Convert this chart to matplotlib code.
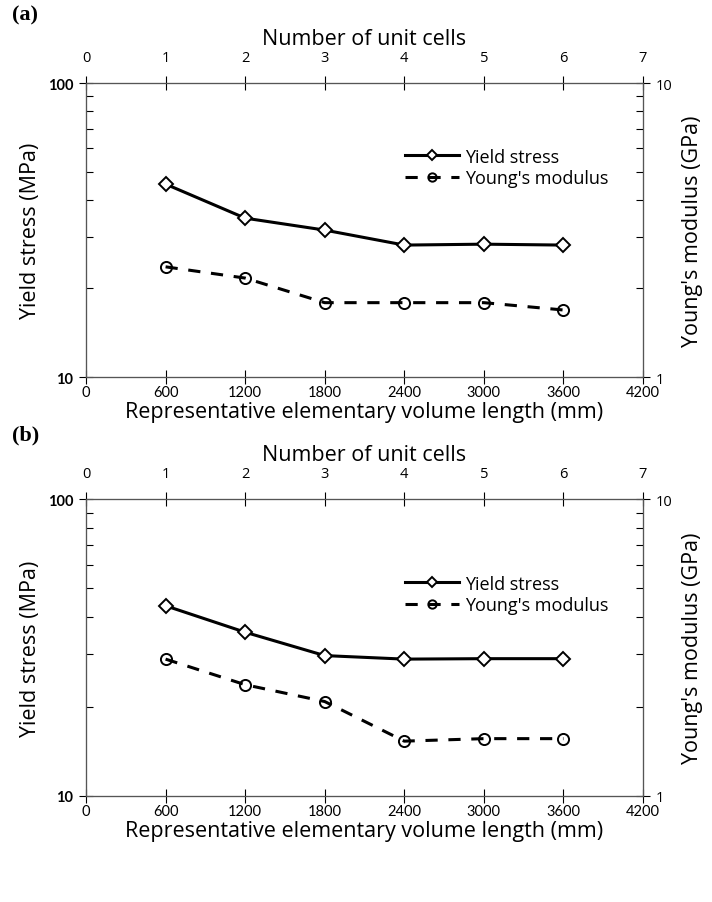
import numpy as np
import matplotlib.pyplot as plt
from matplotlib.ticker import LogLocator, NullFormatter, FixedLocator

# REV length (mm) and number of unit cells
rev_length = [600, 1200, 1800, 2400, 3000, 3600]
n_cells_ticks = [0, 1, 2, 3, 4, 5, 6, 7]
rev_ticks = [0, 600, 1200, 1800, 2400, 3000, 3600, 4200]

# panel (a)
yield_a = [45.3, 34.7, 31.6, 28.1, 28.3, 28.1]
young_a = [2.37, 2.17, 1.79, 1.79, 1.79, 1.69]
# panel (b)
yield_b = [43.7, 35.6, 29.7, 28.9, 29.0, 29.0]
young_b = [2.89, 2.37, 2.08, 1.53, 1.56, 1.56]

panel_labels = ['(a)', '(b)']

plt.rcParams['font.family'] = ['Open Sans', 'DejaVu Sans']
W, H = 712, 903
fig = plt.figure(figsize=(W / 100, H / 100), dpi=100)
TICK_FS = 10.5
LAB_FS = 15.5


def draw_panel(rect, ys, ym, tag, tag_y, leg_y):
    ax = fig.add_axes(rect)
    ax.set_xlim(0, 4200)
    ax.set_yscale('log')
    ax.set_ylim(10, 100)
    ax.set_xticks(rev_ticks)
    ax.set_xticklabels([str(t) for t in rev_ticks], fontsize=TICK_FS, family='Lato')
    ax.yaxis.set_major_locator(FixedLocator([10, 100]))
    ax.set_yticklabels(['10', '100'], fontsize=TICK_FS, family='Lato', fontweight='bold')
    ax.yaxis.set_minor_locator(LogLocator(base=10, subs=np.arange(2, 10)))
    ax.yaxis.set_minor_formatter(NullFormatter())
    ax.tick_params(axis='x', which='major', direction='inout', length=10, width=0.8, pad=1)
    ax.tick_params(axis='y', which='major', direction='inout', length=10, width=0.8, pad=4)
    ax.tick_params(axis='y', which='minor', direction='in', length=5, width=0.8)
    ax.set_xlabel('Representative elementary volume length (mm)', fontsize=LAB_FS, labelpad=1)
    ax.set_ylabel('Yield stress (MPa)', fontsize=LAB_FS, labelpad=5)
    for s in ax.spines.values():
        s.set_linewidth(0.8)
        s.set_color('#555555')

    # top axis: number of unit cells
    axt = ax.twiny()
    axt.set_xlim(0, 7)
    axt.set_xticks(n_cells_ticks)
    axt.set_xticklabels([str(t) for t in n_cells_ticks], fontsize=TICK_FS)
    axt.tick_params(axis='x', direction='inout', length=10, width=0.8, pad=8)
    axt.set_xlabel('Number of unit cells', fontsize=LAB_FS, labelpad=4)

    # right axis: Young's modulus
    axr = ax.twinx()
    axr.set_yscale('log')
    axr.set_ylim(1, 10)
    axr.yaxis.set_major_locator(FixedLocator([1, 10]))
    axr.set_yticklabels(['1', '10'], fontsize=TICK_FS)
    axr.yaxis.set_minor_locator(LogLocator(base=10, subs=np.arange(2, 10)))
    axr.yaxis.set_minor_formatter(NullFormatter())
    axr.tick_params(axis='y', which='major', direction='inout', length=10, width=0.8, pad=4)
    axr.tick_params(axis='y', which='minor', direction='in', length=5, width=0.8)
    axr.set_ylabel("Young's modulus (GPa)", fontsize=LAB_FS, labelpad=7)
    for a in (axt, axr):
        for s in a.spines.values():
            s.set_linewidth(0.8)
            s.set_color('#555555')

    l1, = ax.plot(rev_length, ys, '-', color='black', lw=2.2, marker='D', ms=7,
                  mfc='white', mec='black', mew=1.4, label='Yield stress')
    l2, = axr.plot(rev_length, ym, '--', color='black', lw=2.2, dashes=(4, 3.5),
                   marker='o', ms=8, fillstyle='none', mec='black', mew=1.4,
                   label="Young's modulus")
    axr.legend(handles=[l1, l2], loc='upper left', bbox_to_anchor=(0.56, leg_y),
               frameon=False, fontsize=13, handlelength=3.0, handletextpad=0.3,
               labelspacing=0.2, borderaxespad=0, markerscale=0.75)
    fig.text(12 / W, 1 - tag_y / H, tag, fontsize=16, fontweight='bold',
             family='Liberation Serif', va='center', ha='left')
    return ax


draw_panel([86 / W, 1 - 378 / H, (643 - 86) / W, 294 / H], yield_a, young_a,
           panel_labels[0], 15, 0.805)
draw_panel([86 / W, 1 - 797 / H, (643 - 86) / W, 297 / H], yield_b, young_b,
           panel_labels[1], 435, 0.77)

fig.savefig('out.png', dpi=100)
